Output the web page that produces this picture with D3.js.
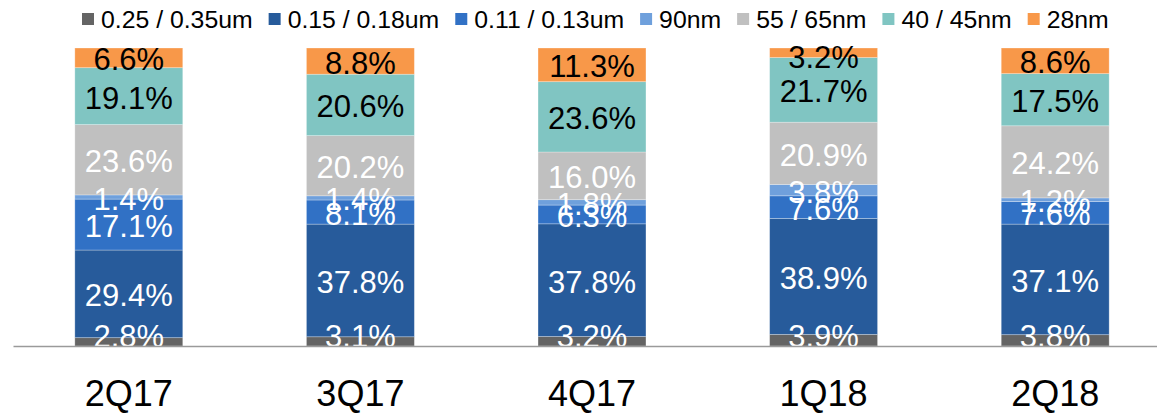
<!DOCTYPE html>
<html>
<head>
<meta charset="utf-8">
<script src="https://cdn.jsdelivr.net/npm/d3@7/dist/d3.min.js"></script>
<style>
  html, body { margin: 0; padding: 0; background: #fff; }
  svg { display: block; font-family: "Liberation Sans", Arial, sans-serif; }
</style>
</head>
<body>
<svg id="chart" width="1157" height="413"></svg>
<script>
const categories = ["2Q17", "3Q17", "4Q17", "1Q18", "2Q18"];
const seriesNames = ["0.25 / 0.35um", "0.15 / 0.18um", "0.11 / 0.13um", "90nm", "55 / 65nm", "40 / 45nm", "28nm"];
const s025 = [2.8, 3.1, 3.2, 3.9, 3.8];
const s015 = [29.4, 37.8, 37.8, 38.9, 37.1];
const s011 = [17.1, 8.1, 6.3, 7.6, 7.6];
const s90  = [1.4, 1.4, 1.8, 3.8, 1.2];
const s55  = [23.6, 20.2, 16.0, 20.9, 24.2];
const s40  = [19.1, 20.6, 23.6, 21.7, 17.5];
const s28  = [6.6, 8.8, 11.3, 3.2, 8.6];
const seriesValues = [s025, s015, s011, s90, s55, s40, s28];
const colors = ["#646464", "#275B9B", "#3171C5", "#6FA0DC", "#C0C0C0", "#80C5C2", "#F89849"];
const labelColors = ["#fff", "#fff", "#fff", "#fff", "#fff", "#000", "#000"];

const svg = d3.select("#chart");

const table = categories.map((c, i) => {
  const row = { cat: c };
  seriesNames.forEach((s, j) => row[s] = seriesValues[j][i]);
  return row;
});
const stacked = d3.stack().keys(seriesNames)(table);

const x = d3.scaleBand().domain(categories).range([13, 1171]).paddingInner(0.534).paddingOuter(0.267);
const y = d3.scaleLinear().domain([0, 100]).range([346, 48]);

svg.append("defs").append("clipPath").attr("id", "plotclip")
  .append("rect").attr("x", 0).attr("y", 30).attr("width", 1157).attr("height", 316);

const g = svg.append("g");
stacked.forEach((layer, j) => {
  g.selectAll(null).data(layer).enter().append("rect")
    .attr("x", d => x(d.data.cat))
    .attr("width", x.bandwidth())
    .attr("y", d => y(d[1]))
    .attr("height", d => y(d[0]) - y(d[1]))
    .attr("fill", colors[j])
    .attr("stroke", "rgba(255,255,255,0.35)")
    .attr("stroke-width", 0.8);
});

// labels (kept inside plot area, clipped at the baseline)
const lg = svg.append("g").attr("clip-path", "url(#plotclip)");
stacked.forEach((layer, j) => {
  lg.selectAll(null).data(layer).enter().append("text")
    .attr("x", d => x(d.data.cat) + x.bandwidth() / 2)
    .attr("y", d => {
      let b = (y(d[0]) + y(d[1])) / 2 + 12.5;
      b = Math.min(b, 346.5);
      b = Math.max(b, 67.5);
      return b;
    })
    .attr("text-anchor", "middle")
    .attr("font-size", 31)
    .attr("fill", labelColors[j])
    .text(d => (d[1] - d[0]).toFixed(1) + "%");
});

// axis line
const axis = d3.axisBottom(x).tickSize(0).tickFormat("");
const ax = svg.append("g").attr("transform", "translate(0,346)").call(axis);
ax.select(".domain").attr("stroke", "#9a9a9a").attr("stroke-width", 1.5);

// category labels
svg.append("g").selectAll("text").data(categories).enter().append("text")
  .attr("x", d => x(d) + x.bandwidth() / 2)
  .attr("y", 406)
  .attr("text-anchor", "middle")
  .attr("font-size", 36)
  .attr("fill", "#000")
  .text(d => d);

// legend
const legend = svg.append("g");
const fs = 24.8;
const tmp = legend.append("text").attr("font-size", fs);
const items = seriesNames.map((s, j) => {
  tmp.text(s);
  return { s, j, w: tmp.node().getComputedTextLength() };
});
tmp.remove();
let cx = 82;
items.forEach(it => {
  legend.append("rect").attr("x", cx).attr("y", 13).attr("width", 12).attr("height", 12).attr("fill", colors[it.j]);
  legend.append("text").attr("x", cx + 19).attr("y", 28).attr("font-size", fs).attr("fill", "#000").text(it.s);
  cx += 12 + 7 + it.w + 16;
});
</script>
</body>
</html>
